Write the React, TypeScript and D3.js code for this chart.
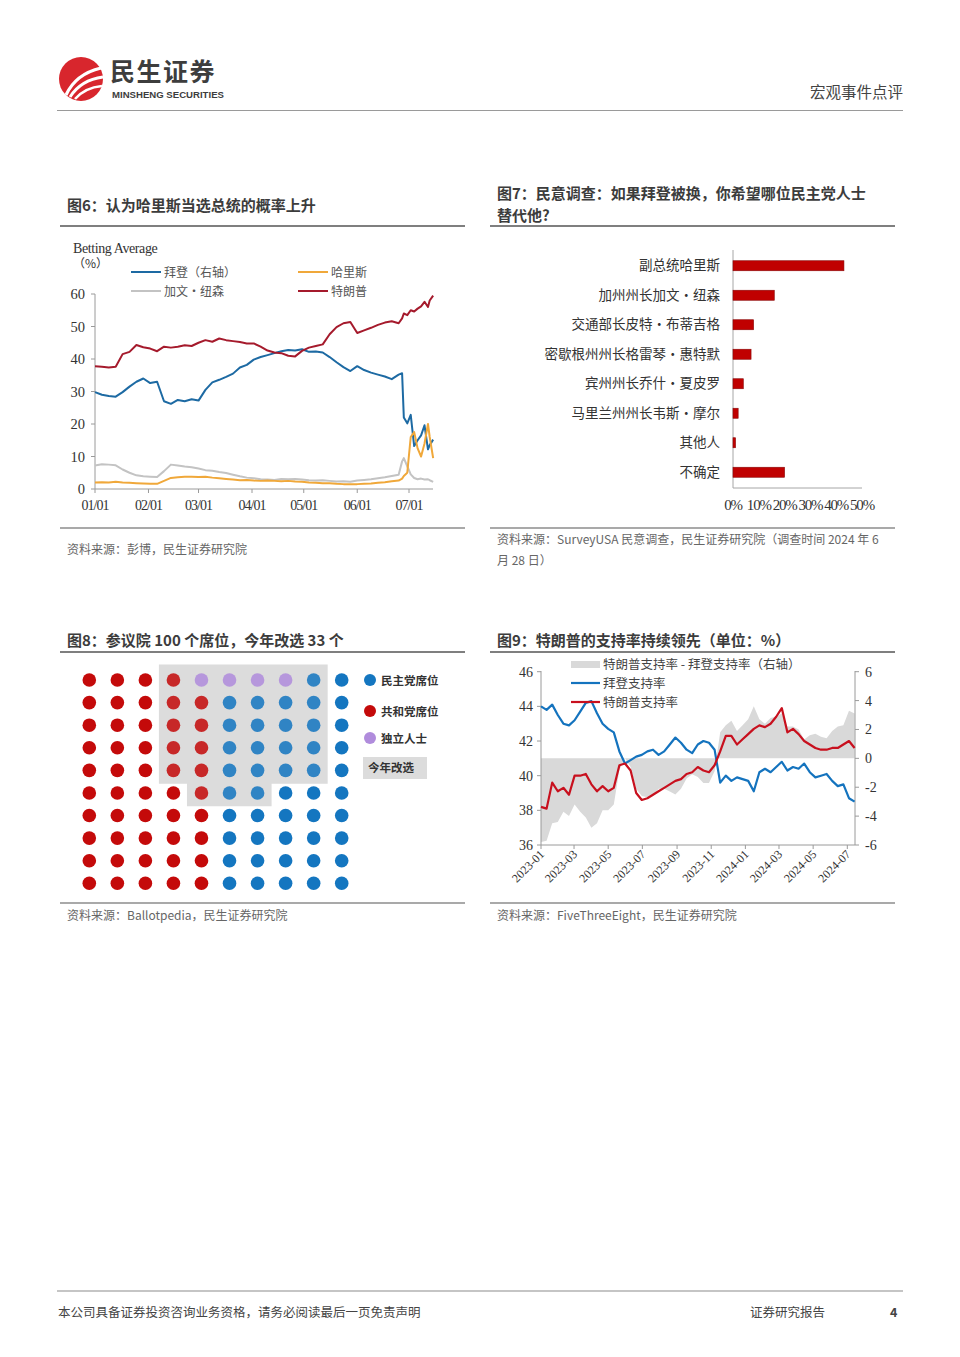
import React from "react";
import * as d3 from "d3";

const CJK = "'Noto Sans CJK SC', 'Noto Sans', sans-serif";
const SERIF = "'Liberation Serif', 'DejaVu Serif', serif";
const SANS = "'Liberation Sans', Arial, sans-serif";

// ---------- Fig 6: betting averages (2024) ----------
const betDates = [
  "01-01","01-05","01-09","01-13","01-17","01-21","01-25","01-29",
  "02-02","02-06","02-10","02-14","02-18","02-22","02-26",
  "03-01","03-05","03-09","03-13","03-17","03-21","03-25","03-29",
  "04-02","04-06","04-10","04-14","04-18","04-22","04-26","04-30",
  "05-04","05-08","05-12","05-16","05-20","05-24","05-28",
  "06-01","06-05","06-09","06-13","06-17","06-21","06-25",
  "06-27","06-28","06-30","07-02","07-04","07-06","07-08","07-10","07-12","07-13","07-15",
];
const betBiden = [
  29.8,29.0,28.6,28.4,29.8,31.5,33.0,34.0,
  32.6,33.0,27.0,26.2,27.4,27.0,27.6,
  27.2,30.5,32.8,33.6,34.5,35.5,37.4,38.2,
  39.8,40.6,41.2,41.8,42.4,42.8,42.6,43.0,
  42.2,42.3,42.0,40.6,39.0,37.5,36.3,
  37.8,36.6,35.8,35.2,34.6,33.8,35.2,
  35.6,22.0,20.2,22.8,13.2,15.0,16.5,19.6,12.2,13.5,15.2,
];
const betTrump = [
  37.8,37.6,37.4,37.6,41.5,42.2,44.3,43.6,
  43.2,42.4,43.8,43.5,43.8,44.2,44.0,
  45.0,45.8,45.3,46.3,45.8,45.5,45.2,44.8,
  44.8,43.8,42.6,42.0,41.8,41.0,40.8,42.5,
  43.5,44.0,44.5,47.6,49.8,51.0,51.4,
  48.0,48.8,49.6,50.5,51.2,51.6,51.0,
  52.5,54.0,53.5,55.0,54.6,55.5,56.2,57.6,56.0,58.0,59.5,
];
const betHarris = [
  2.0,2.1,2.0,2.2,2.0,1.9,1.8,1.7,
  1.6,1.6,2.5,3.4,3.6,3.8,3.8,
  3.7,3.8,3.5,3.3,3.1,2.9,2.7,2.8,
  2.6,2.5,2.6,2.5,2.4,2.5,2.3,2.2,
  2.0,1.9,1.8,1.8,1.6,1.5,1.5,
  1.5,1.6,1.7,1.9,2.1,2.4,2.6,
  3.2,4.0,5.0,16.0,17.5,12.5,10.0,14.0,20.0,16.0,9.5,
];
const betNewsom = [
  7.2,7.6,7.5,7.3,6.0,5.0,4.2,3.9,
  3.8,3.7,5.5,7.5,7.2,6.9,6.7,
  6.3,5.8,5.6,5.2,4.9,4.4,3.9,3.5,
  3.3,3.0,2.9,2.8,3.1,3.0,3.1,2.9,
  2.7,2.6,2.7,2.5,2.3,2.4,2.2,
  2.6,2.8,3.0,3.3,3.6,4.0,4.4,
  8.5,9.5,7.0,4.5,3.4,3.0,3.2,2.9,3.0,2.7,2.2,
];
const betYTicks = [0, 10, 20, 30, 40, 50, 60];
const betXTicks = ["01/01", "02/01", "03/01", "04/01", "05/01", "06/01", "07/01"];

// ---------- Fig 7: poll bars ----------
const pollCategories = [
  "副总统哈里斯",
  "加州州长加文·纽森",
  "交通部长皮特·布蒂吉格",
  "密歇根州州长格雷琴·惠特默",
  "宾州州长乔什·夏皮罗",
  "马里兰州州长韦斯·摩尔",
  "其他人",
  "不确定",
];
const pollValues = [43, 16, 8, 7, 4, 2, 1, 20];
const pollTicks = [0, 10, 20, 30, 40, 50];

// ---------- Fig 8: senate seats ----------
const seatRows = [
  "RRRRIIIIDD",
  "RRRRRDDDDD",
  "RRRRRDDDDD",
  "RRRRRDDDDD",
  "RRRRRDDDDD",
  "RRRRRDDDDD",
  "RRRRRDDDDD",
  "RRRRRDDDDD",
  "RRRRRDDDDD",
  "RRRRRDDDDD",
];
const electionBlocks = [
  { r0: 0, r1: 4, c0: 3, c1: 8 },
  { r0: 5, r1: 5, c0: 4, c1: 6 },
];
const seatLegend = [
  { key: "D", label: "民主党席位" },
  { key: "R", label: "共和党席位" },
  { key: "I", label: "独立人士" },
];

// ---------- Fig 9: approval ----------
const approvalDates = [
  "2023-01-01","2023-01-11","2023-01-21","2023-01-31","2023-02-10","2023-02-20","2023-03-02","2023-03-12","2023-03-22","2023-04-01",
  "2023-04-11","2023-04-21","2023-05-01","2023-05-11","2023-05-21","2023-05-31","2023-06-10","2023-06-20","2023-06-30","2023-07-10",
  "2023-07-20","2023-07-30","2023-08-09","2023-08-19","2023-08-29","2023-09-08","2023-09-18","2023-09-28","2023-10-08","2023-10-18",
  "2023-10-28","2023-11-07","2023-11-17","2023-11-27","2023-12-07","2023-12-17","2023-12-27","2024-01-06","2024-01-16","2024-01-26",
  "2024-02-05","2024-02-15","2024-02-25","2024-03-06","2024-03-16","2024-03-26","2024-04-05","2024-04-15","2024-04-25","2024-05-05",
  "2024-05-15","2024-05-25","2024-06-04","2024-06-14","2024-06-24","2024-07-04","2024-07-14",
];
const approvalBiden = [
  44.0,43.8,44.1,43.5,43.0,42.9,43.2,43.7,44.2,44.3,
  43.6,43.0,42.7,42.5,41.4,40.7,40.9,41.1,41.2,41.4,
  41.5,41.2,41.4,41.8,42.2,41.9,41.5,41.3,41.8,42.0,
  41.9,41.5,39.6,40.0,39.7,39.9,39.8,39.7,39.1,40.2,
  40.4,40.2,40.5,40.8,40.3,40.5,40.4,40.7,40.2,39.9,
  40.0,40.1,39.7,39.4,39.5,38.7,38.5,
];
const approvalTrump = [
  38.2,38.1,39.6,39.1,39.3,38.9,40.0,40.0,40.1,39.5,
  39.1,39.4,39.1,39.3,40.6,40.7,40.3,39.0,38.6,38.7,
  38.9,39.1,39.3,39.5,39.7,39.8,40.1,40.2,40.5,40.3,
  40.2,40.6,41.4,42.3,42.3,41.8,42.1,42.4,42.7,42.9,
  42.8,43.0,43.4,43.9,42.5,42.7,42.4,42.0,41.8,41.6,
  41.5,41.5,41.6,41.6,41.8,42.0,41.6,
];
const approvalLeftTicks = [36, 38, 40, 42, 44, 46];
const approvalRightTicks = [-6, -4, -2, 0, 2, 4, 6];
const approvalXTicks = ["2023-01","2023-03","2023-05","2023-07","2023-09","2023-11","2024-01","2024-03","2024-05","2024-07"];

const parseDay = d3.timeParse("%Y-%m-%d");

function Fig6() {
  const dates = betDates.map((s) => parseDay("2024-" + s)!);
  const x = d3.scaleTime().domain([parseDay("2024-01-01")!, parseDay("2024-07-01")!]).range([95, 409]);
  const y = d3.scaleLinear().domain([0, 60]).range([489, 294]);
  const line = d3.line<number>().x((_, i) => x(dates[i])).y((v) => y(v));
  const series = [
    { vals: betNewsom, color: "#c3c3c3" },
    { vals: betBiden, color: "#1d6aa3" },
    { vals: betHarris, color: "#f0a83a" },
    { vals: betTrump, color: "#a51a2c" },
  ];
  const legend = [
    { label: "拜登（右轴）", color: "#1d6aa3", x: 131, y: 272 },
    { label: "哈里斯", color: "#f0a83a", x: 298, y: 272 },
    { label: "加文·纽森", color: "#c3c3c3", x: 131, y: 291 },
    { label: "特朗普", color: "#a51a2c", x: 298, y: 291 },
  ];
  return (
    <g>
      <text x={73} y={253} fontFamily={SERIF} fontSize={14} letterSpacing={-0.4} fill="#333">Betting Average</text>
      <text x={73} y={268} fontFamily={CJK} fontSize={12} fill="#333">（%）</text>
      {legend.map((l) => (
        <g key={l.label}>
          <line x1={l.x} x2={l.x + 30} y1={l.y} y2={l.y} stroke={l.color} strokeWidth={2} />
          <text x={l.x + 33} y={l.y + 4.5} fontFamily={CJK} fontSize={12} fill="#555">{l.label}</text>
        </g>
      ))}
      <line x1={95} x2={95} y1={294} y2={489} stroke="#9a9a9a" />
      <line x1={95} x2={433} y1={489} y2={489} stroke="#9a9a9a" />
      {betYTicks.map((t) => (
        <g key={t}>
          <line x1={91} x2={95} y1={y(t)} y2={y(t)} stroke="#9a9a9a" />
          <text x={85} y={y(t) + 5} textAnchor="end" fontFamily={SERIF} fontSize={14.5} fill="#333">{t}</text>
        </g>
      ))}
      {betXTicks.map((t) => {
        const xx = x(parseDay("2024-" + t.replace("/", "-"))!);
        return (
          <g key={t}>
            <line x1={xx} x2={xx} y1={489} y2={493} stroke="#9a9a9a" />
            <text x={xx} y={510} textAnchor="middle" fontFamily={SERIF} fontSize={14} letterSpacing={-1} fill="#333">{t}</text>
          </g>
        );
      })}
      {series.map((s, i) => (
        <path key={i} d={line(s.vals)!} fill="none" stroke={s.color} strokeWidth={2} strokeLinejoin="round" />
      ))}
    </g>
  );
}

function Fig7() {
  const x = d3.scaleLinear().domain([0, 50]).range([733, 862]);
  const y = d3.scaleBand<string>().domain(pollCategories).range([251, 487]).paddingInner(0.66).paddingOuter(0.33);
  return (
    <g>
      <line x1={733} x2={733} y1={250} y2={488} stroke="#a6a6a6" />
      <line x1={733} x2={862} y1={488} y2={488} stroke="#a6a6a6" />
      {pollCategories.map((c, i) => (
        <g key={c}>
          <rect x={x(0)} y={y(c)!} width={Math.max(0, x(pollValues[i]) - x(0))} height={y.bandwidth()} fill="#c00000" stroke="#8a0a0a" strokeWidth={0.6} />
          <text x={720} y={y(c)! + y.bandwidth() / 2 + 4.5} textAnchor="end" fontFamily={CJK} fontSize={13.5} fill="#333">{c}</text>
        </g>
      ))}
      {pollTicks.map((t) => (
        <text key={t} x={x(t)} y={510} textAnchor="middle" fontFamily={SERIF} fontSize={15} letterSpacing={-1.2} fill="#333">{t + "%"}</text>
      ))}
    </g>
  );
}

function Fig8() {
  const cx = d3.scalePoint<number>().domain(d3.range(10)).range([89.3, 341.7]);
  const cy = d3.scalePoint<number>().domain(d3.range(10)).range([680, 883.3]);
  const colors: Record<string, string> = { R: "#c40a0a", D: "#1476c0", I: "#b08cdc" };
  const hx = cx.step() / 2;
  const hy = cy.step() / 2;
  const inElection = (r: number, c: number) => electionBlocks.some((b) => r >= b.r0 && r <= b.r1 && c >= b.c0 && c <= b.c1);
  const blockPath = electionBlocks
    .map((b) => {
      const x0 = cx(b.c0)! - hx - 0.5;
      const x1 = cx(b.c1)! + hx;
      const y0 = cy(b.r0)! - (b.r0 === 0 ? 15.5 : hy + 1);
      const y1 = cy(b.r1)! + hy + 2;
      return `M${x0},${y0}H${x1}V${y1}H${x0}Z`;
    })
    .join("");
  const legendY = [680, 711, 738];
  return (
    <g>
      <path d={blockPath} fill="#dcdcdc" />
      {seatRows.map((row, r) =>
        row.split("").map((k, c) => (
          <circle key={`${r}-${c}`} cx={cx(c)} cy={cy(r)} r={6.8} fill={colors[k]} opacity={inElection(r, c) ? 0.86 : 1} />
        ))
      )}
      {seatLegend.map((l, i) => (
        <g key={l.key}>
          <circle cx={370} cy={legendY[i]} r={6} fill={colors[l.key]} />
          <text x={381} y={legendY[i] + 4.5} fontFamily={CJK} fontWeight="bold" fontSize={11.5} fill="#333">{l.label}</text>
        </g>
      ))}
      <rect x={363} y={757} width={64} height={22} fill="#dcdcdc" />
      <text x={368} y={772} fontFamily={CJK} fontWeight="bold" fontSize={11.5} fill="#333">今年改选</text>
    </g>
  );
}

function Fig9() {
  const dates = approvalDates.map((s) => parseDay(s)!);
  const x = d3.scaleTime().domain([parseDay("2023-01-01")!, parseDay("2024-07-01")!]).range([541, 847.3]);
  const yL = d3.scaleLinear().domain([36, 46]).range([845, 671.7]);
  const yR = d3.scaleLinear().domain([-6, 6]).range([845, 671.7]);
  const diff = approvalTrump.map((t, i) => t - approvalBiden[i]);
  const area = d3.area<number>().x((_, i) => x(dates[i])).y0(yR(0)).y1((v) => yR(v));
  const line = d3.line<number>().x((_, i) => x(dates[i])).y((v) => yL(v));
  return (
    <g>
      <path d={area(diff)!} fill="#d9d9d9" />
      <line x1={541} x2={541} y1={671} y2={845} stroke="#9a9a9a" />
      <line x1={855} x2={855} y1={671} y2={845} stroke="#9a9a9a" />
      <line x1={541} x2={855} y1={845} y2={845} stroke="#9a9a9a" />
      {approvalLeftTicks.map((t) => (
        <g key={t}>
          <line x1={537} x2={541} y1={yL(t)} y2={yL(t)} stroke="#9a9a9a" />
          <text x={533} y={yL(t) + 5} textAnchor="end" fontFamily={SERIF} fontSize={14} fill="#333">{t}</text>
        </g>
      ))}
      {approvalRightTicks.map((t) => (
        <g key={t}>
          <line x1={855} x2={859} y1={yR(t)} y2={yR(t)} stroke="#9a9a9a" />
          <text x={865} y={yR(t) + 5} textAnchor="start" fontFamily={SERIF} fontSize={14} fill="#333">{t}</text>
        </g>
      ))}
      {approvalXTicks.map((t) => {
        const xx = x(parseDay(t + "-01")!);
        return (
          <g key={t}>
            <line x1={xx} x2={xx} y1={845} y2={849} stroke="#9a9a9a" />
            <text x={xx + 4} y={855} textAnchor="end" fontFamily={SERIF} fontSize={12} fill="#333" transform={`rotate(-45 ${xx + 4} ${855})`}>{t}</text>
          </g>
        );
      })}
      <path d={line(approvalBiden)!} fill="none" stroke="#1473be" strokeWidth={2.2} strokeLinejoin="round" />
      <path d={line(approvalTrump)!} fill="none" stroke="#c8101e" strokeWidth={2.2} strokeLinejoin="round" />
      <rect x={571} y={661} width={29} height={7} fill="#d9d9d9" />
      <text x={603} y={669} fontFamily={CJK} fontSize={12.5} fill="#444">特朗普支持率 - 拜登支持率（右轴）</text>
      <line x1={571} x2={600} y1={683} y2={683} stroke="#1473be" strokeWidth={2.2} />
      <text x={603} y={688} fontFamily={CJK} fontSize={12.5} fill="#444">拜登支持率</text>
      <line x1={571} x2={600} y1={702} y2={702} stroke="#c8101e" strokeWidth={2.2} />
      <text x={603} y={707} fontFamily={CJK} fontSize={12.5} fill="#444">特朗普支持率</text>
    </g>
  );
}

function Title({ x, y, lines, gap = 21 }: { x: number; y: number; lines: string[]; gap?: number }) {
  return (
    <g>
      {lines.map((l, i) => (
        <text key={i} x={x} y={y + i * gap} fontFamily={CJK} fontWeight="bold" fontSize={15} fill="#3c3c3c">{l}</text>
      ))}
    </g>
  );
}

export default function App() {
  return (
    <svg width={960} height={1357} style={{ position: "absolute", left: 0, top: 0, background: "#fff" }}>
      <rect width={960} height={1357} fill="#fff" />
      {/* header */}
      <g>
        <circle cx={81} cy={79} r={22} fill="#d8262d" />
        <path d="M66,95 C72,82 84,72 101,68" stroke="#fff" strokeWidth={3.2} fill="none" />
        <path d="M70,97 C77,86 88,79 103,77" stroke="#fff" strokeWidth={3} fill="none" />
        <path d="M75,99 C82,91 91,87 102,86" stroke="#fff" strokeWidth={2.6} fill="none" />
        <text x={110} y={81} fontFamily={CJK} fontWeight="bold" fontSize={25} letterSpacing={1.5} fill="#3d3d3d">民生证券</text>
        <text x={112} y={98} fontFamily={SANS} fontWeight="bold" fontSize={9.6} fill="#3d3d3d">MINSHENG SECURITIES</text>
        <text x={903} y={98} textAnchor="end" fontFamily={CJK} fontSize={15.5} fill="#444">宏观事件点评</text>
        <line x1={57} x2={903} y1={110.5} y2={110.5} stroke="#9a9a9a" strokeWidth={1.2} />
      </g>

      {/* titles */}
      <Title x={67} y={211} lines={["图6：认为哈里斯当选总统的概率上升"]} />
      <Title x={497} y={199} lines={["图7：民意调查：如果拜登被换，你希望哪位民主党人士", "替代他?"]} gap={22} />
      <Title x={67} y={646} lines={["图8：参议院 100 个席位，今年改选 33 个"]} />
      <Title x={497} y={646} lines={["图9：特朗普的支持率持续领先（单位：%）"]} />
      <line x1={60} x2={465} y1={226} y2={226} stroke="#7f7f7f" strokeWidth={2} />
      <line x1={490} x2={895} y1={226} y2={226} stroke="#7f7f7f" strokeWidth={2} />
      <line x1={60} x2={465} y1={652} y2={652} stroke="#7f7f7f" strokeWidth={2} />
      <line x1={490} x2={895} y1={652} y2={652} stroke="#7f7f7f" strokeWidth={2} />

      <Fig6 />
      <Fig7 />
      <Fig8 />
      <Fig9 />

      {/* source lines */}
      <line x1={60} x2={465} y1={528} y2={528} stroke="#8c8c8c" strokeWidth={1.5} />
      <line x1={490} x2={895} y1={528} y2={528} stroke="#8c8c8c" strokeWidth={1.5} />
      <line x1={60} x2={465} y1={903} y2={903} stroke="#8c8c8c" strokeWidth={1.5} />
      <line x1={490} x2={895} y1={903} y2={903} stroke="#8c8c8c" strokeWidth={1.5} />
      <text x={67} y={554} fontFamily={CJK} fontSize={12} fill="#666">资料来源：彭博，民生证券研究院</text>
      <text x={497} y={544} fontFamily={CJK} fontSize={12} fill="#666">资料来源：SurveyUSA 民意调查，民生证券研究院（调查时间 2024 年 6</text>
      <text x={497} y={565} fontFamily={CJK} fontSize={12} fill="#666">月 28 日）</text>
      <text x={67} y={920} fontFamily={CJK} fontSize={12} fill="#666">资料来源：Ballotpedia，民生证券研究院</text>
      <text x={497} y={920} fontFamily={CJK} fontSize={12} fill="#666">资料来源：FiveThreeEight，民生证券研究院</text>

      {/* footer */}
      <line x1={57} x2={903} y1={1291} y2={1291} stroke="#8c8c8c" strokeWidth={1.2} />
      <text x={58} y={1317} fontFamily={CJK} fontSize={12.5} fill="#444">本公司具备证券投资咨询业务资格，请务必阅读最后一页免责声明</text>
      <text x={750} y={1317} fontFamily={CJK} fontSize={12.5} fill="#444">证券研究报告</text>
      <text x={890} y={1317} fontFamily={CJK} fontWeight="bold" fontSize={12.5} fill="#444">4</text>
    </svg>
  );
}
